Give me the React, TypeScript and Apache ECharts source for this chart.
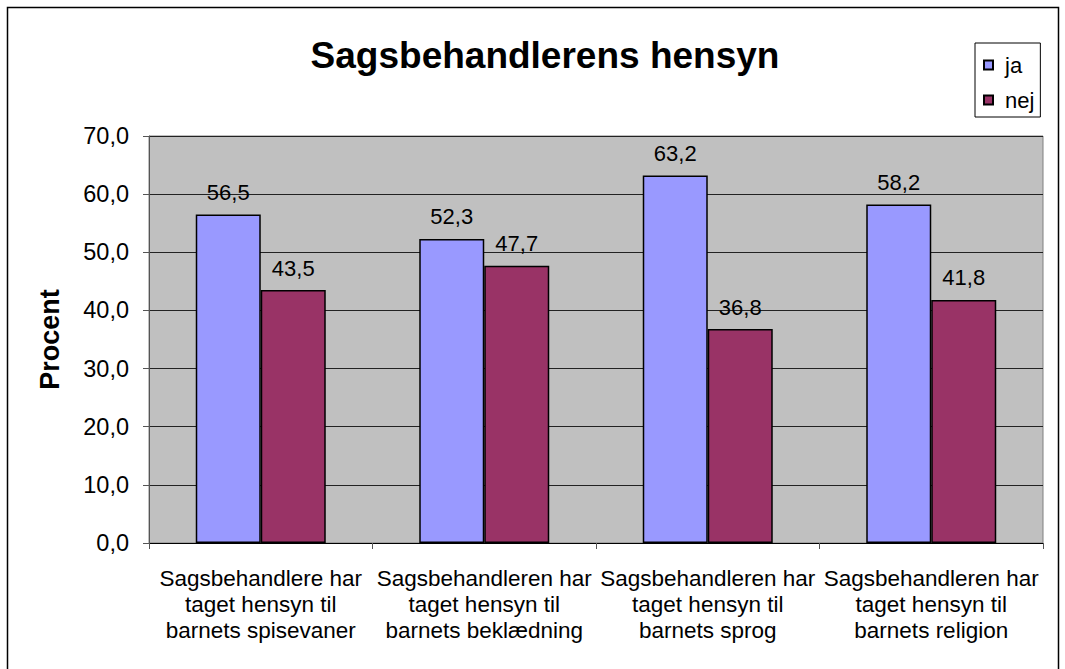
import React, { useEffect, useRef } from "react";
import * as echarts from "echarts";

const categories = [
  "Sagsbehandlere har\ntaget hensyn til\nbarnets spisevaner",
  "Sagsbehandleren har\ntaget hensyn til\nbarnets beklædning",
  "Sagsbehandleren har\ntaget hensyn til\nbarnets sprog",
  "Sagsbehandleren har\ntaget hensyn til\nbarnets religion",
];
const jaValues = [56.5, 52.3, 63.2, 58.2];
const nejValues = [43.5, 47.7, 36.8, 41.8];
const seriesNames = ["ja", "nej"];
const titleText = "Sagsbehandlerens hensyn";
const yAxisName = "Procent";

const FONT = "'Liberation Sans', Arial, sans-serif";
const fmt = (v: number) => v.toFixed(1).replace(".", ",");

export default function App() {
  const ref = useRef<HTMLDivElement>(null);
  useEffect(() => {
    document.body.style.margin = "0";
    const chart = echarts.init(ref.current!, null, { renderer: "svg" });
    const barLabel = {
      show: true,
      position: "top" as const,
      distance: 11,
      color: "#000",
      fontSize: 22,
      fontFamily: FONT,
      formatter: (p: any) => fmt(p.value),
    };
    chart.setOption({
      animation: false,
      backgroundColor: "#fff",
      textStyle: { fontFamily: FONT },
      title: {
        text: titleText,
        left: 540,
        textAlign: "center",
        top: 32,
        textStyle: { fontSize: 37, fontWeight: "bold", color: "#000", fontFamily: FONT },
      },
      legend: {
        orient: "vertical",
        left: 975,
        top: 43,
        padding: [11, 6, 6, 8],
        itemGap: 13,
        borderColor: "#000",
        borderWidth: 1,
        backgroundColor: "#fff",
        icon: "rect",
        itemWidth: 9,
        itemHeight: 9,
        textStyle: {
          fontSize: 22,
          lineHeight: 22,
          color: "#000",
          fontFamily: FONT,
          padding: [0, 0, 0, 7],
        },
        data: seriesNames,
      },
      graphic: [
        {
          type: "rect",
          shape: { x: 7.5, y: 7.5, width: 1051, height: 700 },
          style: { fill: "none", stroke: "#000", lineWidth: 1.5 },
          silent: true,
          z: -1,
        },
      ],
      grid: {
        left: 149,
        right: 22,
        top: 136,
        bottom: 126,
        show: true,
        backgroundColor: "#C0C0C0",
        borderColor: "#808080",
        borderWidth: 1,
      },
      xAxis: {
        type: "category",
        data: categories,
        axisLine: { show: true, lineStyle: { color: "#000" } },
        axisTick: { show: true, length: 6, lineStyle: { color: "#555" } },
        axisLabel: {
          interval: 0,
          fontSize: 22.5,
          lineHeight: 26,
          color: "#000",
          fontFamily: FONT,
          margin: 22,
        },
      },
      yAxis: {
        type: "value",
        min: 0,
        max: 70,
        interval: 10,
        name: yAxisName,
        nameLocation: "middle",
        nameRotate: 90,
        nameGap: 86,
        nameTextStyle: { fontSize: 27, fontWeight: "bold", color: "#000", fontFamily: FONT },
        axisLine: { show: true, lineStyle: { color: "#555" } },
        axisTick: { show: true, length: 6, lineStyle: { color: "#555" } },
        axisLabel: {
          fontSize: 23.5,
          color: "#000",
          fontFamily: FONT,
          margin: 20,
          formatter: (v: number) => fmt(v),
        },
        splitLine: { show: true, lineStyle: { color: "#222", width: 1 } },
      },
      series: [
        {
          name: seriesNames[0],
          type: "bar",
          data: jaValues,
          barWidth: 65,
          barGap: "0%",
          itemStyle: { color: "#9999FF", borderColor: "#000", borderWidth: 1.5 },
          label: barLabel,
        },
        {
          name: seriesNames[1],
          type: "bar",
          data: nejValues,
          barWidth: 65,
          itemStyle: { color: "#993366", borderColor: "#000", borderWidth: 1.5 },
          label: barLabel,
        },
      ],
    });
    return () => chart.dispose();
  }, []);
  return <div ref={ref} style={{ width: 1065, height: 669 }} />;
}
